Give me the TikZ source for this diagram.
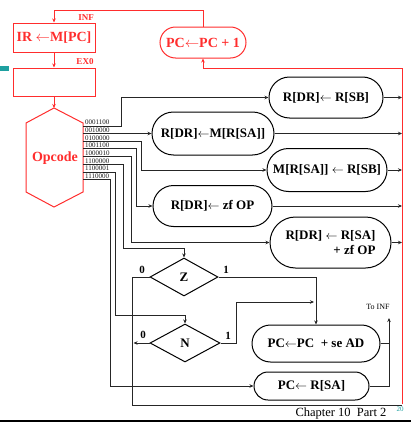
\documentclass[tikz,border=0pt]{standalone}
\usepackage{fontspec}
\setmainfont{Liberation Serif}
\usetikzlibrary{arrows.meta,shapes.geometric,shapes.misc}
\definecolor{rd}{RGB}{255,45,45}
\definecolor{tealc}{RGB}{30,160,160}
\begin{document}
\begin{tikzpicture}[x=1pt,y=-1pt,
  rbox/.style={draw=rd, line width=1pt, text=rd, font=\bfseries\fontsize{14}{16}\selectfont, inner sep=0pt, rectangle},
  rstad/.style={rbox, rounded rectangle},
  bstad/.style={draw, rounded rectangle, line width=1pt, font=\bfseries\fontsize{13}{15}\selectfont, inner sep=0pt},
  dia/.style={draw, diamond, aspect=1.8, line width=1pt, inner sep=0pt, font=\bfseries\fontsize{13}{15}\selectfont},
  conn/.style={line width=0.9pt, draw=black!85},
  arr/.style={conn, -{Stealth[length=4pt,width=3.5pt]}},
  redl/.style={draw=rd, line width=0.9pt},
  redarr/.style={redl, -{Stealth[length=4pt,width=3.5pt]}},
  opl/.style={font=\fontsize{7}{7}\selectfont, inner sep=0pt, anchor=west, text=black!90},
  bit/.style={font=\bfseries\fontsize{11}{12}\selectfont, inner sep=0pt},
  rlab/.style={font=\bfseries\fontsize{9}{10}\selectfont, text=rd, inner sep=0pt}
]
\useasboundingbox (0,0) rectangle (411,423);
% slide artefacts
\fill[tealc] (0,66) rectangle (9,71);
\draw[line width=1.5pt] (0,421) -- (411,421);
\node[font=\fontsize{12.5}{14}\selectfont, inner sep=0pt] (chap) at (341,413) {Chapter 10\ \ Part 2};
\node[font=\fontsize{7}{8}\selectfont, text=tealc, inner sep=0pt] (pg) at (400,409) {20};

% top red part
\node[rbox, minimum width=82, minimum height=29] (ir) at (54,37.5) {IR $\leftarrow$M[PC]};
\node[rbox, minimum width=82, minimum height=28] (ex) at (54,82) {};
\node[rstad, minimum width=86, minimum height=31] (pc1) at (203,42.5) {PC$\leftarrow$PC + 1};
\node[rlab] (inf) at (86,18) {INF};
\node[rlab] (ex0) at (85,62) {EX0};
\draw[redarr] (pc1.north) -- (203,10) -- (54,10) -- (ir.north);
\draw[redarr] (ir.south) -- (ex.north);
\draw[redl, line width=1pt] (54,108) coordinate (hT) -- (83,123) -- (83,192) -- (54,207) -- (26,192) -- (26,123) -- cycle;
\draw[redarr] (ex.south) -- (hT);
\node[text=rd, font=\bfseries\fontsize{14}{16}\selectfont, inner sep=0pt] (op) at (55,158) {Opcode};
\coordinate (rb) at (402,404);
\coordinate (rt) at (402,68);
\draw[redarr] (rb) -- (rt) -- (203,68) -- (pc1.south);

% opcode labels
\node[opl] (l1) at (85,122.5) {0001100};
\node[opl] (l2) at (85,130.2) {0010000};
\node[opl] (l3) at (85,137.9) {0100000};
\node[opl] (l4) at (85,145.6) {1001100};
\node[opl] (l5) at (85,153.3) {1000010};
\node[opl] (l6) at (85,161.0) {1100000};
\node[opl] (l7) at (85,168.7) {1100001};
\node[opl] (l8) at (85,176.4) {1110000};
\coordinate (o1) at (83,126);
\coordinate (o2) at (83,133.5);
\coordinate (o3) at (83,141.2);
\coordinate (o4) at (83,148.9);
\coordinate (o5) at (83,156.6);
\coordinate (o6) at (83,164.3);
\coordinate (o7) at (83,172);
\coordinate (o8) at (83,179.7);

% action boxes
\node[bstad, minimum width=114, minimum height=41] (b1) at (326,97.5) {R[DR]$\leftarrow$ R[SB]};
\node[bstad, minimum width=122, minimum height=43] (b2) at (213,133.5) {R[DR]$\leftarrow$M[R[SA]]};
\node[bstad, minimum width=120, minimum height=43] (b3) at (327,170) {M[R[SA]] $\leftarrow$ R[SB]};
\node[bstad, minimum width=119, minimum height=41] (b4) at (212.5,206) {R[DR]$\leftarrow$ zf OP};
\node[bstad, minimum width=121, minimum height=51, align=right] (b5) at (330.5,242.5) {R[DR] $\leftarrow$ R[SA]\\+ zf OP};
\node[bstad, minimum width=128, minimum height=37] (b6) at (316,343.5) {PC$\leftarrow$PC\ \ + se AD};
\node[bstad, minimum width=115, minimum height=28] (b7) at (311.5,386) {PC$\leftarrow$ R[SA]};
\node[dia, minimum width=68, minimum height=38] (z) at (184,277) {Z};
\node[dia, minimum width=70, minimum height=38] (n) at (185,343) {N};
\node[bit] (z0) at (142,270) {0};
\node[bit] (z1) at (226,270) {1};
\node[bit] (n0) at (143,335) {0};
\node[bit] (n1) at (228,336) {1};
\node[font=\fontsize{8}{9}\selectfont, inner sep=0pt] (toinf) at (378,307) {To INF};

% opcode connectors
\draw[arr] (o1) -- (121,126) |- (b1.west);
\draw[arr] (o2) -- (b2.west);
\draw[arr] (o3) -- (141,141.2) |- (b3.west);
\draw[arr] (o4) -- (136,148.9) |- (b4.west);
\draw[arr] (o5) -- (131,156.6) |- (b5.west);
\draw[arr] (o6) -- (123,164.3) -- (123,248) -- (184,248) -- (z.north);
\draw[arr] (o7) -- (115,172) -- (115,315) -- (185,315) -- (n.north);
\draw[arr] (o8) -- (110,179.7) |- (b7.west);

% to the red return line
\draw[arr] (b1.east) -- (402,97.5);
\draw[arr] (b2.east) -- (402,133.5);
\draw[arr] (b3.east) -- (402,170);
\draw[arr] (b4.east) -- (402,206);
\draw[arr] (b5.east) -- (402,242.5);

% branches
\draw[conn] (z.west) -- (132,277) -- (132,405) -- (402,405);
\draw[arr] (n.west) -- (133.5,343);
\draw[arr] (z.east) -- (316,277) -- (b6.north);
\draw[arr] (n.east) -- (236,343) -- (236,302) -- (314,302);
\draw[conn] (b6.east) -- (389,343.5);
\draw[arr] (b7.east) -- (389,386) -- (389,318);
\end{tikzpicture}
\end{document}
